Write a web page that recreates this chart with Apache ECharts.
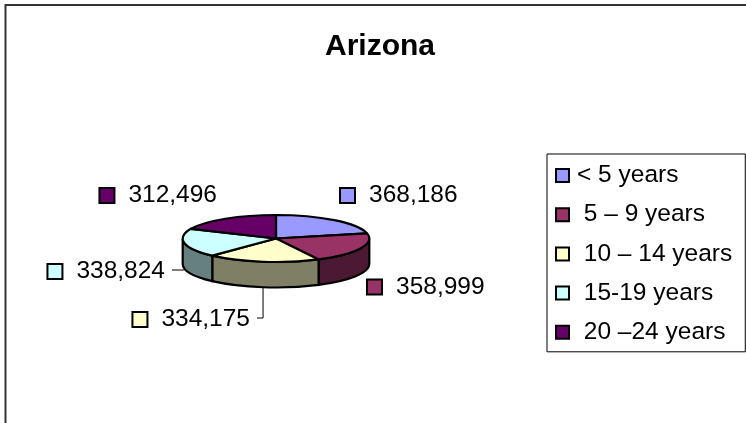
<!DOCTYPE html>
<html>
<head>
<meta charset="utf-8">
<script src="https://cdn.jsdelivr.net/npm/echarts@6/dist/echarts.min.js"></script>
<style>
  html, body { margin: 0; padding: 0; background: #fff; }
  #chart { width: 746px; height: 423px; }
</style>
</head>
<body>
<div id="chart"></div>
<script>
const ageGroups = ['< 5 years', ' 5 – 9 years', ' 10 – 14 years', ' 15-19 years', ' 20 –24 years'];
const population = [368186, 358999, 334175, 338824, 312496];
const sliceColors = ['#9999FF', '#993366', '#FFFFCC', '#CCFFFF', '#660066'];

const FONT = 'Liberation Sans, Arial, sans-serif';
// flattened pie: centre of the top face, radii and wall height
const cx = 276, cy = 238.5, rx = 93.3, ry = 23.5, depth = 25.5;
// where each data label sits, relative to the pie centre
// 'left' = square's left edge at dx, 'right' = text's right edge at dx
const labelSpots = [
  {dx: 65, dy: -43, align: 'left'},
  {dx: 92, dy: 48.5, align: 'left'},
  {dx: -26, dy: 81, align: 'right', leader: true},
  {dx: -111, dy: 33, align: 'right', leader: true},
  {dx: -59, dy: -43, align: 'right'}
];

const total = population.reduce((a, b) => a + b, 0);
const startAngles = [];
let acc = 0;
population.forEach(v => { startAngles.push(acc / total * 360); acc += v; });

function rim(deg, down) {
  const a = deg * Math.PI / 180;
  return [cx + rx * Math.sin(a), cy - ry * Math.cos(a) + (down || 0)];
}
function pt(p) { return p[0].toFixed(2) + ' ' + p[1].toFixed(2); }
function arc(p, large, sweep) { return ' A ' + rx + ' ' + ry + ' 0 ' + large + ' ' + sweep + ' ' + pt(p); }
function shade(hex) {
  const n = parseInt(hex.slice(1), 16);
  return 'rgb(' + (((n >> 16) & 255) >> 1) + ',' + (((n >> 8) & 255) >> 1) + ',' + ((n & 255) >> 1) + ')';
}

function makeRenderer(i) {
  return function (params, api) {
    const value = api.value(0);
    const a0 = startAngles[i];
    const a1 = a0 + value / total * 360;
    const color = sliceColors[i];
    const children = [];

    // front wall, only the part facing the viewer (90..270 deg)
    const s = Math.max(a0, 90), e = Math.min(a1, 270);
    if (e > s) {
      children.push({
        type: 'path',
        shape: {pathData: 'M ' + pt(rim(s)) + arc(rim(e), 0, 1) + ' L ' + pt(rim(e, depth)) + arc(rim(s, depth), 0, 0) + ' Z'},
        style: {fill: shade(color), stroke: '#000', lineWidth: 2.2}
      });
    }
    // top face
    children.push({
      type: 'path',
      shape: {pathData: 'M ' + pt([cx, cy]) + ' L ' + pt(rim(a0)) + arc(rim(a1), a1 - a0 > 180 ? 1 : 0, 1) + ' Z'},
      style: {fill: color, stroke: '#000', lineWidth: 2.2, lineJoin: 'round'}
    });

    // data label with legend key
    const spot = labelSpots[i];
    const lx = cx + spot.dx, ly = cy + spot.dy;
    children.push({
      type: 'text',
      x: lx, y: ly,
      style: {
        text: '{sq|}{gap|}' + echarts.format.addCommas(value),
        fill: '#000',
        fontSize: 24.5,
        fontFamily: FONT,
        align: spot.align,
        verticalAlign: 'middle',
        rich: {
          sq: {width: 13, height: 13, backgroundColor: color, borderColor: '#000', borderWidth: 2},
          gap: {width: 15}
        }
      }
    });
    if (spot.leader) {
      const mid = (a0 + a1) / 2;
      const foot = rim(mid, depth);
      children.push({
        type: 'polyline',
        shape: {points: [[lx + 7, ly - 1.5], [foot[0], ly - 1.5], foot]},
        style: {fill: null, stroke: '#000', lineWidth: 1}
      });
    }
    return {type: 'group', children: children};
  };
}

const myChart = echarts.init(document.getElementById('chart'), null, {renderer: 'canvas'});
const option = {
  backgroundColor: '#fff',
  animation: false,
  title: {
    text: 'Arizona',
    left: 325,
    top: 31.5,
    padding: 0,
    textStyle: {fontSize: 30, fontWeight: 'bold', fontFamily: FONT, color: '#000'}
  },
  legend: {
    orient: 'vertical',
    left: 547,
    top: 154,
    data: ageGroups,
    icon: 'rect',
    itemWidth: 13,
    itemHeight: 13,
    itemGap: 14.2,
    selectedMode: false,
    itemStyle: {borderColor: '#000', borderWidth: 2},
    textStyle: {fontSize: 24.5, fontFamily: FONT, color: '#000', lineHeight: 24, padding: [0, 0, 0, 3]},
    padding: [9, 13, 7, 8],
    borderColor: '#000',
    borderWidth: 1,
    backgroundColor: '#fff'
  },
  graphic: [{
    type: 'rect',
    shape: {x: 5.5, y: 5, width: 800, height: 500},
    style: {fill: null, stroke: '#333', lineWidth: 2},
    silent: true
  }],
  series: ageGroups.map((name, i) => ({
    type: 'custom',
    name: name,
    coordinateSystem: 'none',
    itemStyle: {color: sliceColors[i]},
    data: [population[i]],
    renderItem: makeRenderer(i)
  }))
};
option && myChart.setOption(option);
</script>
</body>
</html>
